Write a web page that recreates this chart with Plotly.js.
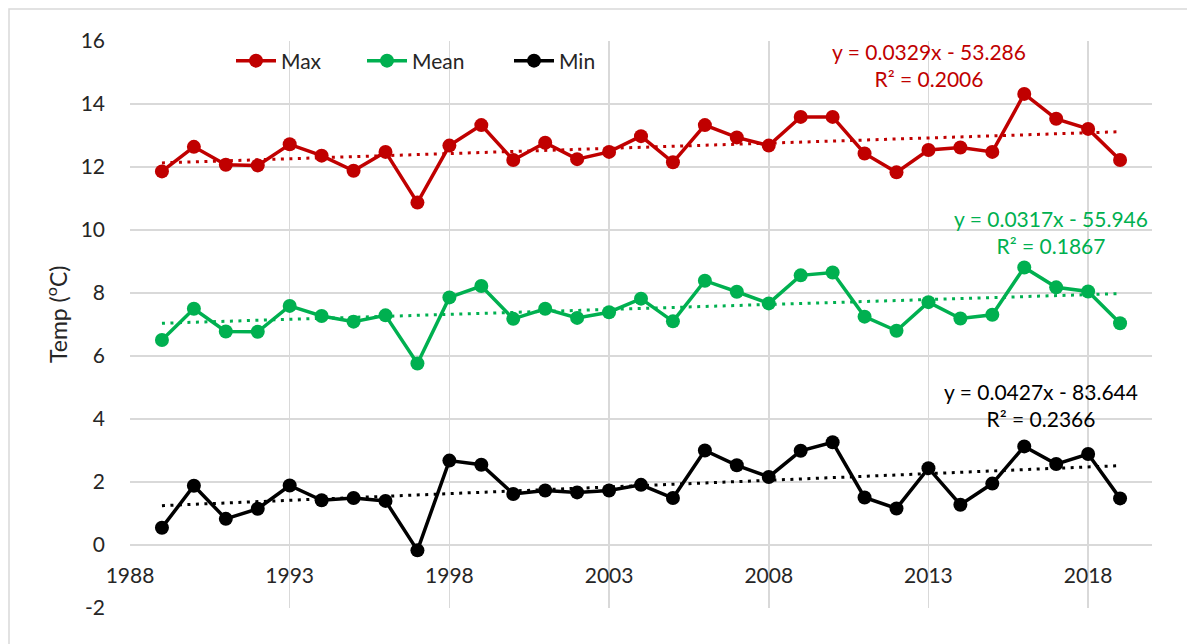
<!DOCTYPE html>
<html>
<head>
<meta charset="utf-8">
<script src="https://cdn.plot.ly/plotly-3.0.1.min.js"></script>
<style>html,body{margin:0;padding:0;background:#fff;}#chart{width:1187px;height:644px;}</style>
</head>
<body>
<div id="chart"></div>
<script>
const years = [1989,1990,1991,1992,1993,1994,1995,1996,1997,1998,1999,2000,2001,2002,2003,2004,2005,2006,2007,2008,2009,2010,2011,2012,2013,2014,2015,2016,2017,2018,2019];
const maxTemp = [11.86,12.64,12.07,12.05,12.72,12.36,11.88,12.48,10.87,12.68,13.33,12.22,12.77,12.25,12.48,12.98,12.15,13.33,12.94,12.68,13.59,13.59,12.43,11.83,12.54,12.62,12.48,14.32,13.53,13.21,12.22];
const meanTemp = [6.51,7.50,6.78,6.77,7.59,7.27,7.09,7.29,5.76,7.86,8.22,7.18,7.50,7.21,7.39,7.82,7.10,8.39,8.04,7.67,8.56,8.65,7.25,6.80,7.71,7.19,7.31,8.81,8.18,8.05,7.04];
const minTemp = [0.55,1.88,0.83,1.15,1.89,1.42,1.49,1.40,-0.17,2.68,2.55,1.62,1.73,1.67,1.73,1.91,1.49,3.00,2.53,2.16,2.99,3.26,1.51,1.16,2.44,1.28,1.95,3.13,2.57,2.89,1.48];
const trendYears = [1989, 2019];
const maxTrend = [12.13, 13.12];
const meanTrend = [7.04, 7.98];
const minTrend = [1.25, 2.52];
const xTicks = [1988,1993,1998,2003,2008,2013,2018];
const yTicks = [-2,0,2,4,6,8,10,12,14,16];
const eqMax = ['y = 0.0329x - 53.286', 'R² = 0.2006'];
const eqMean = ['y = 0.0317x - 55.946', 'R² = 0.1867'];
const eqMin = ['y = 0.0427x - 83.644', 'R² = 0.2366'];

const RED = '#C00000', GREEN = '#00B050', BLACK = '#000000';
const FONT = 'Lato, "Open Sans", sans-serif';
const TXT = '#262626';
const FS = 21;

function series(name, y, color, leg) {
  return {x: years, y: y, name: name, type: 'scatter', mode: 'lines+markers', legend: leg,
    line: {color: color, width: 3.5}, marker: {color: color, size: 14, line: {width: 0}}};
}
function trend(y, color) {
  return {x: trendYears, y: y, type: 'scatter', mode: 'lines', showlegend: false,
    hoverinfo: 'skip', line: {color: color, width: 3, dash: '3px,5.5px'}};
}

const data = [
  trend(maxTrend, RED), trend(meanTrend, GREEN), trend(minTrend, BLACK),
  series('Max', maxTemp, RED, 'legend'), series('Mean', meanTemp, GREEN, 'legend2'), series('Min', minTemp, BLACK, 'legend3')
];

function leg(xpx) {
  return {orientation: 'h', x: (xpx - 130) / 1022, xanchor: 'left', y: (608 - 61) / 567, yanchor: 'middle',
    bgcolor: 'rgba(0,0,0,0)', font: {family: FONT, size: FS, color: TXT}, itemwidth: 40};
}

const layout = {
  width: 1187, height: 644,
  margin: {l: 130, r: 35, t: 41, b: 36},
  paper_bgcolor: '#fff', plot_bgcolor: '#fff',
  font: {family: FONT, size: FS, color: TXT},
  showlegend: true,
  legend: leg(231), legend2: leg(362), legend3: leg(509),
  xaxis: {range: [1988, 2020], tickvals: xTicks, ticktext: xTicks.map(String),
    showgrid: true, gridcolor: '#d9d9d9', gridwidth: 1.5, zeroline: false, showline: false,
    anchor: 'free', position: 2/18, ticks: '', ticklabelstandoff: 16,
    tickfont: {family: FONT, size: FS, color: TXT}},
  yaxis: {range: [-2, 16], tickvals: yTicks, ticktext: yTicks.map(String),
    showgrid: true, gridcolor: '#d9d9d9', gridwidth: 1.5, zeroline: false, showline: false,
    ticks: '', ticklabelstandoff: 24, tickfont: {family: FONT, size: FS, color: TXT}},
  shapes: [
    {type: 'rect', xref: 'paper', yref: 'paper', x0: -0.1184, x1: 1.05, y0: -0.08, y1: 1.0564,
     line: {color: '#d9d9d9', width: 1.5}, fillcolor: 'rgba(0,0,0,0)', layer: 'below'}
  ],
  annotations: [
    {xref: 'paper', yref: 'paper', x: (56 - 130) / 1022, y: (608 - 315) / 567, text: 'Temp (<sup>o</sup>C)',
     textangle: -90, showarrow: false, xanchor: 'center', yanchor: 'middle', font: {family: FONT, size: 23, color: TXT}},
    {x: 2013.02, y: 15.23, text: eqMax.join('<br>'), showarrow: false, xanchor: 'center', yanchor: 'middle',
     font: {family: FONT, size: FS, color: RED}},
    {x: 2016.84, y: 9.93, text: eqMean.join('<br>'), showarrow: false, xanchor: 'center', yanchor: 'middle',
     font: {family: FONT, size: FS, color: GREEN}},
    {x: 2016.53, y: 4.44, text: eqMin.join('<br>'), showarrow: false, xanchor: 'center', yanchor: 'middle',
     font: {family: FONT, size: FS, color: BLACK}}
  ]
};

Plotly.newPlot('chart', data, layout, {displayModeBar: false, staticPlot: true});
</script>
</body>
</html>
